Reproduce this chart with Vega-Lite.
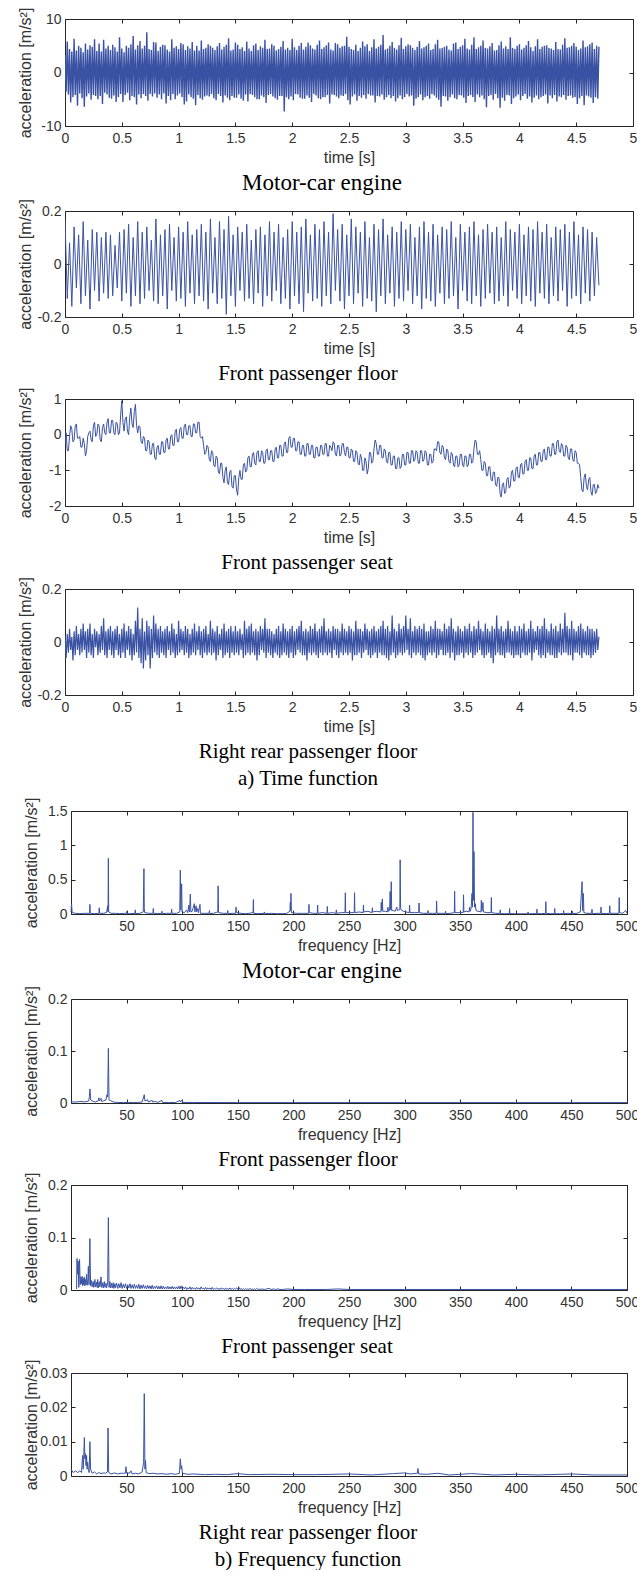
{
"$schema": "https://vega.github.io/schema/vega-lite/v6.json",
"background": "white",
"padding": {"left": 16, "top": 7, "right": 0, "bottom": 0},
"spacing": 8,
"datasets": {
"t1": [{"t":0,"a":3.2},{"t":0.01,"a":-3.6},{"t":0.02,"a":5.8},{"t":0.03,"a":-4.1},{"t":0.04,"a":4.4},{"t":0.05,"a":-5.6},{"t":0.06,"a":3.9},{"t":0.07,"a":-4.6},{"t":0.08,"a":6.3},{"t":0.09,"a":-4.2},
{"t":0.1,"a":4.1},{"t":0.11,"a":-6.2},{"t":0.12,"a":5.0},{"t":0.13,"a":-3.9},{"t":0.14,"a":4.6},{"t":0.15,"a":-4.8},{"t":0.16,"a":3.8},{"t":0.17,"a":-6.4},{"t":0.18,"a":5.4},{"t":0.19,"a":-4.5},
{"t":0.2,"a":4.3},{"t":0.21,"a":-3.9},{"t":0.22,"a":5.1},{"t":0.23,"a":-5.1},{"t":0.24,"a":4.8},{"t":0.25,"a":-4.2},{"t":0.26,"a":6.2},{"t":0.27,"a":-4.4},{"t":0.28,"a":4.0},{"t":0.29,"a":-5.0},
{"t":0.3,"a":5.4},{"t":0.31,"a":-4.4},{"t":0.32,"a":3.9},{"t":0.33,"a":-5.9},{"t":0.34,"a":6.1},{"t":0.35,"a":-3.8},{"t":0.36,"a":4.5},{"t":0.37,"a":-4.1},{"t":0.38,"a":5.0},{"t":0.39,"a":-4.7},
{"t":0.4,"a":4.2},{"t":0.41,"a":-4.9},{"t":0.42,"a":5.2},{"t":0.43,"a":-4.3},{"t":0.44,"a":4.7},{"t":0.45,"a":-5.5},{"t":0.46,"a":3.9},{"t":0.47,"a":-4.6},{"t":0.48,"a":6.6},{"t":0.49,"a":-4.0},
{"t":0.5,"a":4.5},{"t":0.51,"a":-5.5},{"t":0.52,"a":3.8},{"t":0.53,"a":-4.2},{"t":0.54,"a":5.0},{"t":0.55,"a":-3.8},{"t":0.56,"a":4.6},{"t":0.57,"a":-5.2},{"t":0.58,"a":5.3},{"t":0.59,"a":-4.4},
{"t":0.6,"a":6.8},{"t":0.61,"a":-4.6},{"t":0.62,"a":4.3},{"t":0.63,"a":-6.0},{"t":0.64,"a":5.1},{"t":0.65,"a":-4.1},{"t":0.66,"a":5.9},{"t":0.67,"a":-4.8},{"t":0.68,"a":4.5},{"t":0.69,"a":-4.0},
{"t":0.7,"a":5.0},{"t":0.71,"a":-4.4},{"t":0.72,"a":7.5},{"t":0.73,"a":-5.3},{"t":0.74,"a":4.4},{"t":0.75,"a":-4.0},{"t":0.76,"a":4.2},{"t":0.77,"a":-4.5},{"t":0.78,"a":5.7},{"t":0.79,"a":-3.9},
{"t":0.8,"a":5.6},{"t":0.81,"a":-4.7},{"t":0.82,"a":4.0},{"t":0.83,"a":-4.1},{"t":0.84,"a":4.8},{"t":0.85,"a":-5.0},{"t":0.86,"a":5.2},{"t":0.87,"a":-3.9},{"t":0.88,"a":5.1},{"t":0.89,"a":-5.8},
{"t":0.9,"a":4.3},{"t":0.91,"a":-4.4},{"t":0.92,"a":3.9},{"t":0.93,"a":-5.2},{"t":0.94,"a":6.2},{"t":0.95,"a":-4.0},{"t":0.96,"a":4.6},{"t":0.97,"a":-5.0},{"t":0.98,"a":4.9},{"t":0.99,"a":-4.3},
{"t":1.0,"a":4.4},{"t":1.01,"a":-3.9},{"t":1.02,"a":5.5},{"t":1.03,"a":-4.6},{"t":1.04,"a":5.3},{"t":1.05,"a":-6.0},{"t":1.06,"a":4.2},{"t":1.07,"a":-5.4},{"t":1.08,"a":4.9},{"t":1.09,"a":-4.1},
{"t":1.1,"a":4.5},{"t":1.11,"a":-4.6},{"t":1.12,"a":5.7},{"t":1.13,"a":-4.9},{"t":1.14,"a":4.1},{"t":1.15,"a":-6.1},{"t":1.16,"a":5.0},{"t":1.17,"a":-4.2},{"t":1.18,"a":4.1},{"t":1.19,"a":-4.8},
{"t":1.2,"a":6.0},{"t":1.21,"a":-5.1},{"t":1.22,"a":4.4},{"t":1.23,"a":-4.5},{"t":1.24,"a":4.6},{"t":1.25,"a":-4.3},{"t":1.26,"a":5.3},{"t":1.27,"a":-4.5},{"t":1.28,"a":5.0},{"t":1.29,"a":-4.0},
{"t":1.3,"a":4.6},{"t":1.31,"a":-4.8},{"t":1.32,"a":4.2},{"t":1.33,"a":-5.2},{"t":1.34,"a":4.9},{"t":1.35,"a":-4.0},{"t":1.36,"a":5.5},{"t":1.37,"a":-4.4},{"t":1.38,"a":4.3},{"t":1.39,"a":-5.6},
{"t":1.4,"a":4.8},{"t":1.41,"a":-4.3},{"t":1.42,"a":5.2},{"t":1.43,"a":-4.7},{"t":1.44,"a":6.4},{"t":1.45,"a":-5.2},{"t":1.46,"a":4.1},{"t":1.47,"a":-4.4},{"t":1.48,"a":4.3},{"t":1.49,"a":-4.7},
{"t":1.5,"a":5.6},{"t":1.51,"a":-4.7},{"t":1.52,"a":5.2},{"t":1.53,"a":-4.1},{"t":1.54,"a":4.4},{"t":1.55,"a":-4.9},{"t":1.56,"a":4.7},{"t":1.57,"a":-5.3},{"t":1.58,"a":4.0},{"t":1.59,"a":-4.1},
{"t":1.6,"a":5.8},{"t":1.61,"a":-5.4},{"t":1.62,"a":4.5},{"t":1.63,"a":-4.0},{"t":1.64,"a":4.0},{"t":1.65,"a":-4.2},{"t":1.66,"a":5.1},{"t":1.67,"a":-4.6},{"t":1.68,"a":5.4},{"t":1.69,"a":-5.0},
{"t":1.7,"a":4.2},{"t":1.71,"a":-5.0},{"t":1.72,"a":4.9},{"t":1.73,"a":-4.3},{"t":1.74,"a":4.6},{"t":1.75,"a":-4.6},{"t":1.76,"a":6.1},{"t":1.77,"a":-5.7},{"t":1.78,"a":4.4},{"t":1.79,"a":-4.2},
{"t":1.8,"a":4.5},{"t":1.81,"a":-4.0},{"t":1.82,"a":5.3},{"t":1.83,"a":-4.5},{"t":1.84,"a":5.0},{"t":1.85,"a":-4.8},{"t":1.86,"a":4.1},{"t":1.87,"a":-5.1},{"t":1.88,"a":4.4},{"t":1.89,"a":-4.4},
{"t":1.9,"a":4.8},{"t":1.91,"a":-4.4},{"t":1.92,"a":5.9},{"t":1.93,"a":-7.3},{"t":1.94,"a":4.3},{"t":1.95,"a":-4.6},{"t":1.96,"a":4.6},{"t":1.97,"a":-5.0},{"t":1.98,"a":4.2},{"t":1.99,"a":-4.5},
{"t":2.0,"a":6.3},{"t":2.01,"a":-5.2},{"t":2.02,"a":4.7},{"t":2.03,"a":-4.0},{"t":2.04,"a":4.2},{"t":2.05,"a":-4.1},{"t":2.06,"a":5.0},{"t":2.07,"a":-4.7},{"t":2.08,"a":5.5},{"t":2.09,"a":-4.9},
{"t":2.1,"a":4.3},{"t":2.11,"a":-4.9},{"t":2.12,"a":4.8},{"t":2.13,"a":-4.3},{"t":2.14,"a":5.6},{"t":2.15,"a":-4.7},{"t":2.16,"a":5.1},{"t":2.17,"a":-5.5},{"t":2.18,"a":4.5},{"t":2.19,"a":-4.0},
{"t":2.2,"a":4.3},{"t":2.21,"a":-4.3},{"t":2.22,"a":5.2},{"t":2.23,"a":-4.8},{"t":2.24,"a":6.0},{"t":2.25,"a":-5.0},{"t":2.26,"a":4.4},{"t":2.27,"a":-4.6},{"t":2.28,"a":4.7},{"t":2.29,"a":-4.6},
{"t":2.3,"a":5.1},{"t":2.31,"a":-4.2},{"t":2.32,"a":5.6},{"t":2.33,"a":-5.8},{"t":2.34,"a":4.3},{"t":2.35,"a":-4.1},{"t":2.36,"a":4.1},{"t":2.37,"a":-4.2},{"t":2.38,"a":5.5},{"t":2.39,"a":-4.5},
{"t":2.4,"a":5.3},{"t":2.41,"a":-4.8},{"t":2.42,"a":4.6},{"t":2.43,"a":-4.3},{"t":2.44,"a":4.9},{"t":2.45,"a":-4.4},{"t":2.46,"a":5.0},{"t":2.47,"a":-4.0},{"t":2.48,"a":6.7},{"t":2.49,"a":-5.2},
{"t":2.5,"a":4.8},{"t":2.51,"a":-6.0},{"t":2.52,"a":4.4},{"t":2.53,"a":-4.5},{"t":2.54,"a":4.2},{"t":2.55,"a":-4.1},{"t":2.56,"a":5.2},{"t":2.57,"a":-5.3},{"t":2.58,"a":4.0},{"t":2.59,"a":-4.4},
{"t":2.6,"a":4.6},{"t":2.61,"a":-4.7},{"t":2.62,"a":5.8},{"t":2.63,"a":-4.2},{"t":2.64,"a":4.9},{"t":2.65,"a":-4.9},{"t":2.66,"a":5.3},{"t":2.67,"a":-4.0},{"t":2.68,"a":4.0},{"t":2.69,"a":-4.3},
{"t":2.7,"a":4.7},{"t":2.71,"a":-4.3},{"t":2.72,"a":6.2},{"t":2.73,"a":-5.6},{"t":2.74,"a":4.5},{"t":2.75,"a":-4.4},{"t":2.76,"a":4.8},{"t":2.77,"a":-4.5},{"t":2.78,"a":5.2},{"t":2.79,"a":-4.1},
{"t":2.8,"a":7.0},{"t":2.81,"a":-5.1},{"t":2.82,"a":4.3},{"t":2.83,"a":-4.6},{"t":2.84,"a":4.5},{"t":2.85,"a":-4.2},{"t":2.86,"a":5.0},{"t":2.87,"a":-4.8},{"t":2.88,"a":5.7},{"t":2.89,"a":-4.4},
{"t":2.9,"a":4.6},{"t":2.91,"a":-5.4},{"t":2.92,"a":4.3},{"t":2.93,"a":-4.8},{"t":2.94,"a":5.1},{"t":2.95,"a":-4.3},{"t":2.96,"a":6.5},{"t":2.97,"a":-5.0},{"t":2.98,"a":4.4},{"t":2.99,"a":-4.6},
{"t":3.0,"a":4.9},{"t":3.01,"a":-4.0},{"t":3.02,"a":5.3},{"t":3.03,"a":-4.5},{"t":3.04,"a":5.1},{"t":3.05,"a":-4.3},{"t":3.06,"a":4.6},{"t":3.07,"a":-6.2},{"t":3.08,"a":4.2},{"t":3.09,"a":-4.9},
{"t":3.1,"a":4.8},{"t":3.11,"a":-4.6},{"t":3.12,"a":5.9},{"t":3.13,"a":-4.1},{"t":3.14,"a":4.5},{"t":3.15,"a":-5.2},{"t":3.16,"a":4.7},{"t":3.17,"a":-4.6},{"t":3.18,"a":5.0},{"t":3.19,"a":-4.4},
{"t":3.2,"a":5.4},{"t":3.21,"a":-4.9},{"t":3.22,"a":4.2},{"t":3.23,"a":-4.0},{"t":3.24,"a":4.4},{"t":3.25,"a":-4.3},{"t":3.26,"a":5.3},{"t":3.27,"a":-4.7},{"t":3.28,"a":6.1},{"t":3.29,"a":-5.1},
{"t":3.3,"a":4.5},{"t":3.31,"a":-6.4},{"t":3.32,"a":4.6},{"t":3.33,"a":-4.4},{"t":3.34,"a":4.8},{"t":3.35,"a":-4.5},{"t":3.36,"a":5.0},{"t":3.37,"a":-5.3},{"t":3.38,"a":4.3},{"t":3.39,"a":-4.6},
{"t":3.4,"a":4.1},{"t":3.41,"a":-4.1},{"t":3.42,"a":5.4},{"t":3.43,"a":-4.8},{"t":3.44,"a":5.6},{"t":3.45,"a":-5.0},{"t":3.46,"a":4.4},{"t":3.47,"a":-4.2},{"t":3.48,"a":4.8},{"t":3.49,"a":-4.3},
{"t":3.5,"a":5.1},{"t":3.51,"a":-4.7},{"t":3.52,"a":6.3},{"t":3.53,"a":-5.7},{"t":3.54,"a":4.5},{"t":3.55,"a":-4.4},{"t":3.56,"a":4.3},{"t":3.57,"a":-4.2},{"t":3.58,"a":5.2},{"t":3.59,"a":-4.6},
{"t":3.6,"a":6.6},{"t":3.61,"a":-5.5},{"t":3.62,"a":4.4},{"t":3.63,"a":-4.1},{"t":3.64,"a":4.7},{"t":3.65,"a":-4.6},{"t":3.66,"a":5.0},{"t":3.67,"a":-4.3},{"t":3.68,"a":6.0},{"t":3.69,"a":-5.0},
{"t":3.7,"a":4.6},{"t":3.71,"a":-6.5},{"t":3.72,"a":4.5},{"t":3.73,"a":-4.4},{"t":3.74,"a":4.9},{"t":3.75,"a":-4.2},{"t":3.76,"a":5.5},{"t":3.77,"a":-5.1},{"t":3.78,"a":4.1},{"t":3.79,"a":-4.0},
{"t":3.8,"a":4.2},{"t":3.81,"a":-4.8},{"t":3.82,"a":5.1},{"t":3.83,"a":-6.6},{"t":3.84,"a":5.8},{"t":3.85,"a":-4.7},{"t":3.86,"a":4.5},{"t":3.87,"a":-5.3},{"t":3.88,"a":4.9},{"t":3.89,"a":-4.2},
{"t":3.9,"a":4.4},{"t":3.91,"a":-4.3},{"t":3.92,"a":6.6},{"t":3.93,"a":-5.9},{"t":3.94,"a":4.6},{"t":3.95,"a":-4.8},{"t":3.96,"a":4.4},{"t":3.97,"a":-4.5},{"t":3.98,"a":5.0},{"t":3.99,"a":-4.1},
{"t":4.0,"a":5.3},{"t":4.01,"a":-5.2},{"t":4.02,"a":4.3},{"t":4.03,"a":-4.4},{"t":4.04,"a":4.6},{"t":4.05,"a":-4.0},{"t":4.06,"a":5.1},{"t":4.07,"a":-4.9},{"t":4.08,"a":5.9},{"t":4.09,"a":-4.5},
{"t":4.1,"a":4.7},{"t":4.11,"a":-5.6},{"t":4.12,"a":4.0},{"t":4.13,"a":-4.7},{"t":4.14,"a":4.9},{"t":4.15,"a":-4.3},{"t":4.16,"a":6.2},{"t":4.17,"a":-5.0},{"t":4.18,"a":4.4},{"t":4.19,"a":-4.6},
{"t":4.2,"a":4.8},{"t":4.21,"a":-4.4},{"t":4.22,"a":5.0},{"t":4.23,"a":-4.1},{"t":4.24,"a":5.1},{"t":4.25,"a":-5.8},{"t":4.26,"a":4.6},{"t":4.27,"a":-4.3},{"t":4.28,"a":4.5},{"t":4.29,"a":-4.8},
{"t":4.3,"a":4.2},{"t":4.31,"a":-4.2},{"t":4.32,"a":5.7},{"t":4.33,"a":-5.4},{"t":4.34,"a":4.4},{"t":4.35,"a":-4.5},{"t":4.36,"a":4.3},{"t":4.37,"a":-4.6},{"t":4.38,"a":5.2},{"t":4.39,"a":-4.2},
{"t":4.4,"a":6.4},{"t":4.41,"a":-5.1},{"t":4.42,"a":4.6},{"t":4.43,"a":-4.4},{"t":4.44,"a":4.7},{"t":4.45,"a":-4.3},{"t":4.46,"a":5.0},{"t":4.47,"a":-4.7},{"t":4.48,"a":5.5},{"t":4.49,"a":-4.6},
{"t":4.5,"a":4.8},{"t":4.51,"a":-5.9},{"t":4.52,"a":4.2},{"t":4.53,"a":-4.8},{"t":4.54,"a":4.5},{"t":4.55,"a":-4.4},{"t":4.56,"a":6.0},{"t":4.57,"a":-6.1},{"t":4.58,"a":4.7},{"t":4.59,"a":-4.3},
{"t":4.6,"a":4.9},{"t":4.61,"a":-4.5},{"t":4.62,"a":5.3},{"t":4.63,"a":-4.7},{"t":4.64,"a":5.6},{"t":4.65,"a":-5.7},{"t":4.66,"a":4.4},{"t":4.67,"a":-4.6},{"t":4.68,"a":5.0},{"t":4.69,"a":-4.9},{"t":4.7,"a":4.8}],
"t2": [{"t":0,"a":0.17},{"t":0.02,"a":-0.13},{"t":0.04,"a":0.08},{"t":0.06,"a":-0.16},{"t":0.08,"a":0.14},{"t":0.1,"a":-0.09},{"t":0.12,"a":0.11},{"t":0.14,"a":-0.15},{"t":0.16,"a":0.16},{"t":0.18,"a":-0.12},{"t":0.2,"a":0.09},{"t":0.22,"a":-0.17},{"t":0.24,"a":0.13},{"t":0.26,"a":-0.10},{"t":0.28,"a":0.12},{"t":0.3,"a":-0.14},{"t":0.32,"a":0.10},{"t":0.34,"a":-0.11},{"t":0.36,"a":0.12},{"t":0.38,"a":-0.13},{"t":0.4,"a":0.11},{"t":0.42,"a":-0.12},{"t":0.44,"a":0.07},{"t":0.46,"a":-0.09},{"t":0.48,"a":0.12},{"t":0.5,"a":-0.14},{"t":0.52,"a":0.13},{"t":0.54,"a":-0.11},{"t":0.56,"a":0.15},{"t":0.58,"a":-0.16},{"t":0.6,"a":0.10},{"t":0.62,"a":-0.12},{"t":0.64,"a":0.16},{"t":0.66,"a":-0.15},{"t":0.68,"a":0.12},{"t":0.7,"a":-0.13},{"t":0.72,"a":0.14},{"t":0.74,"a":-0.10},{"t":0.76,"a":0.09},{"t":0.78,"a":-0.14},{"t":0.8,"a":0.17},{"t":0.82,"a":-0.15},{"t":0.84,"a":0.11},{"t":0.86,"a":-0.12},{"t":0.88,"a":0.13},{"t":0.9,"a":-0.17},{"t":0.92,"a":0.15},{"t":0.94,"a":-0.10},{"t":0.96,"a":0.10},{"t":0.98,"a":-0.14},{"t":1.0,"a":0.14},{"t":1.02,"a":-0.13},{"t":1.04,"a":0.12},{"t":1.06,"a":-0.16},{"t":1.08,"a":0.16},{"t":1.1,"a":-0.11},{"t":1.12,"a":0.11},{"t":1.14,"a":-0.15},{"t":1.16,"a":0.13},{"t":1.18,"a":-0.12},{"t":1.2,"a":0.15},{"t":1.22,"a":-0.14},{"t":1.24,"a":0.12},{"t":1.26,"a":-0.17},{"t":1.28,"a":0.17},{"t":1.3,"a":-0.11},{"t":1.32,"a":0.10},{"t":1.34,"a":-0.15},{"t":1.36,"a":0.16},{"t":1.38,"a":-0.13},{"t":1.4,"a":0.13},{"t":1.42,"a":-0.19},{"t":1.44,"a":0.18},{"t":1.46,"a":-0.12},{"t":1.48,"a":0.11},{"t":1.5,"a":-0.16},{"t":1.52,"a":0.14},{"t":1.54,"a":-0.10},{"t":1.56,"a":0.12},{"t":1.58,"a":-0.14},{"t":1.6,"a":0.15},{"t":1.62,"a":-0.13},{"t":1.64,"a":0.09},{"t":1.66,"a":-0.15},{"t":1.68,"a":0.13},{"t":1.7,"a":-0.11},{"t":1.72,"a":0.14},{"t":1.74,"a":-0.16},{"t":1.76,"a":0.11},{"t":1.78,"a":-0.12},{"t":1.8,"a":0.16},{"t":1.82,"a":-0.14},{"t":1.84,"a":0.12},{"t":1.86,"a":-0.10},{"t":1.88,"a":0.15},{"t":1.9,"a":-0.15},{"t":1.92,"a":0.10},{"t":1.94,"a":-0.13},{"t":1.96,"a":0.13},{"t":1.98,"a":-0.17},{"t":2.0,"a":0.16},{"t":2.02,"a":-0.12},{"t":2.04,"a":0.12},{"t":2.06,"a":-0.15},{"t":2.08,"a":0.14},{"t":2.1,"a":-0.18},{"t":2.12,"a":0.17},{"t":2.14,"a":-0.11},{"t":2.16,"a":0.11},{"t":2.18,"a":-0.14},{"t":2.2,"a":0.15},{"t":2.22,"a":-0.13},{"t":2.24,"a":0.13},{"t":2.26,"a":-0.16},{"t":2.28,"a":0.16},{"t":2.3,"a":-0.12},{"t":2.32,"a":0.12},{"t":2.34,"a":-0.15},{"t":2.36,"a":0.19},{"t":2.38,"a":-0.10},{"t":2.4,"a":0.13},{"t":2.42,"a":-0.14},{"t":2.44,"a":0.15},{"t":2.46,"a":-0.17},{"t":2.48,"a":0.11},{"t":2.5,"a":-0.12},{"t":2.52,"a":0.17},{"t":2.54,"a":-0.15},{"t":2.56,"a":0.14},{"t":2.58,"a":-0.11},{"t":2.6,"a":0.12},{"t":2.62,"a":-0.16},{"t":2.64,"a":0.16},{"t":2.66,"a":-0.13},{"t":2.68,"a":0.10},{"t":2.7,"a":-0.14},{"t":2.72,"a":0.15},{"t":2.74,"a":-0.18},{"t":2.76,"a":0.13},{"t":2.78,"a":-0.12},{"t":2.8,"a":0.17},{"t":2.82,"a":-0.15},{"t":2.84,"a":0.11},{"t":2.86,"a":-0.11},{"t":2.88,"a":0.14},{"t":2.9,"a":-0.16},{"t":2.92,"a":0.12},{"t":2.94,"a":-0.13},{"t":2.96,"a":0.16},{"t":2.98,"a":-0.14},{"t":3.0,"a":0.13},{"t":3.02,"a":-0.10},{"t":3.04,"a":0.15},{"t":3.06,"a":-0.15},{"t":3.08,"a":0.10},{"t":3.1,"a":-0.12},{"t":3.12,"a":0.14},{"t":3.14,"a":-0.17},{"t":3.16,"a":0.16},{"t":3.18,"a":-0.13},{"t":3.2,"a":0.12},{"t":3.22,"a":-0.14},{"t":3.24,"a":0.15},{"t":3.26,"a":-0.16},{"t":3.28,"a":0.11},{"t":3.3,"a":-0.11},{"t":3.32,"a":0.14},{"t":3.34,"a":-0.15},{"t":3.36,"a":0.13},{"t":3.38,"a":-0.13},{"t":3.4,"a":0.16},{"t":3.42,"a":-0.12},{"t":3.44,"a":0.10},{"t":3.46,"a":-0.17},{"t":3.48,"a":0.15},{"t":3.5,"a":-0.10},{"t":3.52,"a":0.12},{"t":3.54,"a":-0.14},{"t":3.56,"a":0.14},{"t":3.58,"a":-0.15},{"t":3.6,"a":0.16},{"t":3.62,"a":-0.12},{"t":3.64,"a":0.11},{"t":3.66,"a":-0.16},{"t":3.68,"a":0.13},{"t":3.7,"a":-0.13},{"t":3.72,"a":0.15},{"t":3.74,"a":-0.11},{"t":3.76,"a":0.12},{"t":3.78,"a":-0.15},{"t":3.8,"a":0.14},{"t":3.82,"a":-0.14},{"t":3.84,"a":0.10},{"t":3.86,"a":-0.12},{"t":3.88,"a":0.16},{"t":3.9,"a":-0.16},{"t":3.92,"a":0.13},{"t":3.94,"a":-0.10},{"t":3.96,"a":0.12},{"t":3.98,"a":-0.13},{"t":4.0,"a":0.15},{"t":4.02,"a":-0.15},{"t":4.04,"a":0.11},{"t":4.06,"a":-0.12},{"t":4.08,"a":0.14},{"t":4.1,"a":-0.14},{"t":4.12,"a":0.13},{"t":4.14,"a":-0.16},{"t":4.16,"a":0.16},{"t":4.18,"a":-0.11},{"t":4.2,"a":0.12},{"t":4.22,"a":-0.13},{"t":4.24,"a":0.15},{"t":4.26,"a":-0.15},{"t":4.28,"a":0.10},{"t":4.3,"a":-0.12},{"t":4.32,"a":0.14},{"t":4.34,"a":-0.14},{"t":4.36,"a":0.13},{"t":4.38,"a":-0.10},{"t":4.4,"a":0.15},{"t":4.42,"a":-0.16},{"t":4.44,"a":0.12},{"t":4.46,"a":-0.13},{"t":4.48,"a":0.16},{"t":4.5,"a":-0.12},{"t":4.52,"a":0.11},{"t":4.54,"a":-0.15},{"t":4.56,"a":0.14},{"t":4.58,"a":-0.11},{"t":4.6,"a":0.13},{"t":4.62,"a":-0.14},{"t":4.64,"a":0.12},{"t":4.66,"a":-0.12},{"t":4.68,"a":0.10},{"t":4.7,"a":-0.08}],
"t3": [{"t":0,"a":-0.25},{"t":0.01,"a":0.05},{"t":0.02,"a":-0.45},{"t":0.03,"a":-0.45},{"t":0.04,"a":-0.05},{"t":0.05,"a":0.25},{"t":0.06,"a":0.15},{"t":0.07,"a":-0.2},{"t":0.08,"a":-0.15},{"t":0.09,"a":0.25},
{"t":0.1,"a":0.3},{"t":0.11,"a":-0.1},{"t":0.12,"a":-0.1},{"t":0.13,"a":-0.05},{"t":0.14,"a":-0.35},{"t":0.15,"a":-0.35},{"t":0.16,"a":-0.1},{"t":0.17,"a":-0.25},{"t":0.18,"a":-0.6},{"t":0.19,"a":-0.45},
{"t":0.2,"a":-0.05},{"t":0.21,"a":0.05},{"t":0.22,"a":0.1},{"t":0.23,"a":-0.15},{"t":0.24,"a":-0.2},{"t":0.25,"a":0.25},{"t":0.26,"a":0.35},{"t":0.27,"a":-0.05},{"t":0.28,"a":0.0},{"t":0.29,"a":0.3},
{"t":0.3,"a":0.25},{"t":0.31,"a":-0.15},{"t":0.32,"a":-0.2},{"t":0.33,"a":0.2},{"t":0.34,"a":0.3},{"t":0.35,"a":0.05},{"t":0.36,"a":0.0},{"t":0.37,"a":0.35},{"t":0.38,"a":0.45},{"t":0.39,"a":0.05},
{"t":0.4,"a":0.05},{"t":0.41,"a":0.4},{"t":0.42,"a":0.4},{"t":0.43,"a":0.05},{"t":0.44,"a":0.0},{"t":0.45,"a":0.35},{"t":0.46,"a":0.3},{"t":0.47,"a":0.0},{"t":0.48,"a":0.05},{"t":0.49,"a":0.55},
{"t":0.5,"a":0.95},{"t":0.51,"a":0.35},{"t":0.52,"a":0.1},{"t":0.53,"a":0.45},{"t":0.54,"a":0.5},{"t":0.55,"a":0.1},{"t":0.56,"a":0.0},{"t":0.57,"a":0.5},{"t":0.58,"a":0.75},{"t":0.59,"a":0.3},
{"t":0.6,"a":0.2},{"t":0.61,"a":0.65},{"t":0.62,"a":0.85},{"t":0.63,"a":0.25},{"t":0.64,"a":0.05},{"t":0.65,"a":0.25},{"t":0.66,"a":0.2},{"t":0.67,"a":-0.2},{"t":0.68,"a":-0.25},{"t":0.69,"a":-0.05},
{"t":0.7,"a":-0.1},{"t":0.71,"a":-0.45},{"t":0.72,"a":-0.45},{"t":0.73,"a":-0.15},{"t":0.74,"a":-0.2},{"t":0.75,"a":-0.55},{"t":0.76,"a":-0.55},{"t":0.77,"a":-0.25},{"t":0.78,"a":-0.25},{"t":0.79,"a":-0.65},
{"t":0.8,"a":-0.7},{"t":0.81,"a":-0.35},{"t":0.82,"a":-0.3},{"t":0.83,"a":-0.55},{"t":0.84,"a":-0.55},{"t":0.85,"a":-0.2},{"t":0.86,"a":-0.2},{"t":0.87,"a":-0.5},{"t":0.88,"a":-0.5},{"t":0.89,"a":-0.15},
{"t":0.9,"a":-0.1},{"t":0.91,"a":-0.4},{"t":0.92,"a":-0.4},{"t":0.93,"a":-0.05},{"t":0.94,"a":0.0},{"t":0.95,"a":-0.3},{"t":0.96,"a":-0.3},{"t":0.97,"a":0.1},{"t":0.98,"a":0.15},{"t":0.99,"a":-0.2},
{"t":1.0,"a":-0.2},{"t":1.01,"a":0.15},{"t":1.02,"a":0.2},{"t":1.03,"a":-0.1},{"t":1.04,"a":-0.1},{"t":1.05,"a":0.25},{"t":1.06,"a":0.3},{"t":1.07,"a":0.0},{"t":1.08,"a":0.0},{"t":1.09,"a":0.25},
{"t":1.1,"a":0.25},{"t":1.11,"a":-0.05},{"t":1.12,"a":-0.05},{"t":1.13,"a":0.3},{"t":1.14,"a":0.3},{"t":1.15,"a":0.05},{"t":1.16,"a":0.05},{"t":1.17,"a":0.35},{"t":1.18,"a":0.35},{"t":1.19,"a":-0.05},
{"t":1.2,"a":-0.1},{"t":1.21,"a":-0.05},{"t":1.22,"a":-0.3},{"t":1.23,"a":-0.55},{"t":1.24,"a":-0.5},{"t":1.25,"a":-0.3},{"t":1.26,"a":-0.35},{"t":1.27,"a":-0.7},{"t":1.28,"a":-0.75},{"t":1.29,"a":-0.45},
{"t":1.3,"a":-0.5},{"t":1.31,"a":-0.85},{"t":1.32,"a":-0.9},{"t":1.33,"a":-0.6},{"t":1.34,"a":-0.65},{"t":1.35,"a":-1.05},{"t":1.36,"a":-1.1},{"t":1.37,"a":-0.8},{"t":1.38,"a":-0.8},{"t":1.39,"a":-1.2},
{"t":1.4,"a":-1.35},{"t":1.41,"a":-1.0},{"t":1.42,"a":-0.9},{"t":1.43,"a":-1.35},{"t":1.44,"a":-1.4},{"t":1.45,"a":-1.05},{"t":1.46,"a":-1.0},{"t":1.47,"a":-1.45},{"t":1.48,"a":-1.5},{"t":1.49,"a":-1.15},
{"t":1.5,"a":-1.15},{"t":1.51,"a":-1.55},{"t":1.52,"a":-1.7},{"t":1.53,"a":-1.2},{"t":1.54,"a":-1.0},{"t":1.55,"a":-1.25},{"t":1.56,"a":-1.25},{"t":1.57,"a":-0.85},{"t":1.58,"a":-0.8},{"t":1.59,"a":-1.05},
{"t":1.6,"a":-1.0},{"t":1.61,"a":-0.65},{"t":1.62,"a":-0.6},{"t":1.63,"a":-0.9},{"t":1.64,"a":-0.9},{"t":1.65,"a":-0.55},{"t":1.66,"a":-0.5},{"t":1.67,"a":-0.8},{"t":1.68,"a":-0.85},{"t":1.69,"a":-0.5},
{"t":1.7,"a":-0.45},{"t":1.71,"a":-0.75},{"t":1.72,"a":-0.75},{"t":1.73,"a":-0.45},{"t":1.74,"a":-0.5},{"t":1.75,"a":-0.8},{"t":1.76,"a":-0.8},{"t":1.77,"a":-0.45},{"t":1.78,"a":-0.4},{"t":1.79,"a":-0.7},
{"t":1.8,"a":-0.7},{"t":1.81,"a":-0.45},{"t":1.82,"a":-0.45},{"t":1.83,"a":-0.75},{"t":1.84,"a":-0.75},{"t":1.85,"a":-0.4},{"t":1.86,"a":-0.35},{"t":1.87,"a":-0.65},{"t":1.88,"a":-0.65},{"t":1.89,"a":-0.3},
{"t":1.9,"a":-0.3},{"t":1.91,"a":-0.6},{"t":1.92,"a":-0.6},{"t":1.93,"a":-0.25},{"t":1.94,"a":-0.2},{"t":1.95,"a":-0.5},{"t":1.96,"a":-0.5},{"t":1.97,"a":-0.1},{"t":1.98,"a":-0.05},{"t":1.99,"a":-0.35},
{"t":2.0,"a":-0.35},{"t":2.01,"a":-0.1},{"t":2.02,"a":-0.1},{"t":2.03,"a":-0.45},{"t":2.04,"a":-0.45},{"t":2.05,"a":-0.2},{"t":2.06,"a":-0.2},{"t":2.07,"a":-0.55},{"t":2.08,"a":-0.55},{"t":2.09,"a":-0.3},
{"t":2.1,"a":-0.3},{"t":2.11,"a":-0.6},{"t":2.12,"a":-0.6},{"t":2.13,"a":-0.25},{"t":2.14,"a":-0.25},{"t":2.15,"a":-0.55},{"t":2.16,"a":-0.55},{"t":2.17,"a":-0.3},{"t":2.18,"a":-0.3},{"t":2.19,"a":-0.65},
{"t":2.2,"a":-0.65},{"t":2.21,"a":-0.35},{"t":2.22,"a":-0.35},{"t":2.23,"a":-0.6},{"t":2.24,"a":-0.6},{"t":2.25,"a":-0.3},{"t":2.26,"a":-0.3},{"t":2.27,"a":-0.55},{"t":2.28,"a":-0.55},{"t":2.29,"a":-0.25},
{"t":2.3,"a":-0.25},{"t":2.31,"a":-0.6},{"t":2.32,"a":-0.6},{"t":2.33,"a":-0.3},{"t":2.34,"a":-0.35},{"t":2.35,"a":-0.45},{"t":2.36,"a":-0.2},{"t":2.37,"a":-0.25},{"t":2.38,"a":-0.55},{"t":2.39,"a":-0.6},
{"t":2.4,"a":-0.3},{"t":2.41,"a":-0.3},{"t":2.42,"a":-0.6},{"t":2.43,"a":-0.55},{"t":2.44,"a":-0.25},{"t":2.45,"a":-0.25},{"t":2.46,"a":-0.5},{"t":2.47,"a":-0.6},{"t":2.48,"a":-0.35},{"t":2.49,"a":-0.35},
{"t":2.5,"a":-0.65},{"t":2.51,"a":-0.65},{"t":2.52,"a":-0.4},{"t":2.53,"a":-0.45},{"t":2.54,"a":-0.75},{"t":2.55,"a":-0.75},{"t":2.56,"a":-0.45},{"t":2.57,"a":-0.5},{"t":2.58,"a":-0.8},{"t":2.59,"a":-0.85},
{"t":2.6,"a":-0.55},{"t":2.61,"a":-0.65},{"t":2.62,"a":-1.0},{"t":2.63,"a":-1.0},{"t":2.64,"a":-0.65},{"t":2.65,"a":-0.75},{"t":2.66,"a":-1.1},{"t":2.67,"a":-0.95},{"t":2.68,"a":-0.5},{"t":2.69,"a":-0.5},
{"t":2.7,"a":-0.8},{"t":2.71,"a":-0.75},{"t":2.72,"a":-0.4},{"t":2.73,"a":-0.15},{"t":2.74,"a":-0.25},{"t":2.75,"a":-0.55},{"t":2.76,"a":-0.55},{"t":2.77,"a":-0.3},{"t":2.78,"a":-0.3},{"t":2.79,"a":-0.65},
{"t":2.8,"a":-0.65},{"t":2.81,"a":-0.4},{"t":2.82,"a":-0.45},{"t":2.83,"a":-0.75},{"t":2.84,"a":-0.8},{"t":2.85,"a":-0.5},{"t":2.86,"a":-0.5},{"t":2.87,"a":-0.85},{"t":2.88,"a":-0.85},{"t":2.89,"a":-0.6},
{"t":2.9,"a":-0.6},{"t":2.91,"a":-0.95},{"t":2.92,"a":-0.95},{"t":2.93,"a":-0.65},{"t":2.94,"a":-0.65},{"t":2.95,"a":-0.95},{"t":2.96,"a":-0.9},{"t":2.97,"a":-0.55},{"t":2.98,"a":-0.55},{"t":2.99,"a":-0.85},
{"t":3.0,"a":-0.85},{"t":3.01,"a":-0.5},{"t":3.02,"a":-0.5},{"t":3.03,"a":-0.8},{"t":3.04,"a":-0.8},{"t":3.05,"a":-0.45},{"t":3.06,"a":-0.45},{"t":3.07,"a":-0.75},{"t":3.08,"a":-0.7},{"t":3.09,"a":-0.45},
{"t":3.1,"a":-0.5},{"t":3.11,"a":-0.8},{"t":3.12,"a":-0.8},{"t":3.13,"a":-0.45},{"t":3.14,"a":-0.45},{"t":3.15,"a":-0.75},{"t":3.16,"a":-0.7},{"t":3.17,"a":-0.45},{"t":3.18,"a":-0.5},{"t":3.19,"a":-0.85},
{"t":3.2,"a":-0.85},{"t":3.21,"a":-0.55},{"t":3.22,"a":-0.55},{"t":3.23,"a":-0.8},{"t":3.24,"a":-0.75},{"t":3.25,"a":-0.4},{"t":3.26,"a":-0.4},{"t":3.27,"a":-0.45},{"t":3.28,"a":-0.2},{"t":3.29,"a":-0.2},
{"t":3.3,"a":-0.5},{"t":3.31,"a":-0.55},{"t":3.32,"a":-0.3},{"t":3.33,"a":-0.35},{"t":3.34,"a":-0.65},{"t":3.35,"a":-0.7},{"t":3.36,"a":-0.4},{"t":3.37,"a":-0.45},{"t":3.38,"a":-0.75},{"t":3.39,"a":-0.8},
{"t":3.4,"a":-0.5},{"t":3.41,"a":-0.55},{"t":3.42,"a":-0.85},{"t":3.43,"a":-0.9},{"t":3.44,"a":-0.6},{"t":3.45,"a":-0.6},{"t":3.46,"a":-0.9},{"t":3.47,"a":-0.85},{"t":3.48,"a":-0.55},{"t":3.49,"a":-0.55},
{"t":3.5,"a":-0.85},{"t":3.51,"a":-0.9},{"t":3.52,"a":-0.6},{"t":3.53,"a":-0.6},{"t":3.54,"a":-0.9},{"t":3.55,"a":-0.85},{"t":3.56,"a":-0.55},{"t":3.57,"a":-0.55},{"t":3.58,"a":-0.8},{"t":3.59,"a":-0.75},
{"t":3.6,"a":-0.4},{"t":3.61,"a":-0.15},{"t":3.62,"a":-0.2},{"t":3.63,"a":-0.55},{"t":3.64,"a":-0.55},{"t":3.65,"a":-0.45},{"t":3.66,"a":-0.7},{"t":3.67,"a":-1.0},{"t":3.68,"a":-1.0},{"t":3.69,"a":-0.75},
{"t":3.7,"a":-0.8},{"t":3.71,"a":-1.15},{"t":3.72,"a":-1.15},{"t":3.73,"a":-0.9},{"t":3.74,"a":-0.9},{"t":3.75,"a":-1.25},{"t":3.76,"a":-1.3},{"t":3.77,"a":-1.05},{"t":3.78,"a":-1.05},{"t":3.79,"a":-1.4},
{"t":3.8,"a":-1.45},{"t":3.81,"a":-1.2},{"t":3.82,"a":-1.2},{"t":3.83,"a":-1.65},{"t":3.84,"a":-1.75},{"t":3.85,"a":-1.4},{"t":3.86,"a":-1.35},{"t":3.87,"a":-1.65},{"t":3.88,"a":-1.6},{"t":3.89,"a":-1.25},
{"t":3.9,"a":-1.2},{"t":3.91,"a":-1.5},{"t":3.92,"a":-1.45},{"t":3.93,"a":-1.05},{"t":3.94,"a":-1.0},{"t":3.95,"a":-1.3},{"t":3.96,"a":-1.3},{"t":3.97,"a":-0.95},{"t":3.98,"a":-0.9},{"t":3.99,"a":-1.2},
{"t":4.0,"a":-1.2},{"t":4.01,"a":-0.85},{"t":4.02,"a":-0.8},{"t":4.03,"a":-1.1},{"t":4.04,"a":-1.1},{"t":4.05,"a":-0.75},{"t":4.06,"a":-0.7},{"t":4.07,"a":-1.0},{"t":4.08,"a":-1.0},{"t":4.09,"a":-0.65},
{"t":4.1,"a":-0.65},{"t":4.11,"a":-0.95},{"t":4.12,"a":-0.95},{"t":4.13,"a":-0.6},{"t":4.14,"a":-0.55},{"t":4.15,"a":-0.85},{"t":4.16,"a":-0.85},{"t":4.17,"a":-0.5},{"t":4.18,"a":-0.5},{"t":4.19,"a":-0.75},
{"t":4.2,"a":-0.75},{"t":4.21,"a":-0.45},{"t":4.22,"a":-0.4},{"t":4.23,"a":-0.7},{"t":4.24,"a":-0.7},{"t":4.25,"a":-0.35},{"t":4.26,"a":-0.35},{"t":4.27,"a":-0.6},{"t":4.28,"a":-0.6},{"t":4.29,"a":-0.25},
{"t":4.3,"a":-0.25},{"t":4.31,"a":-0.55},{"t":4.32,"a":-0.55},{"t":4.33,"a":-0.2},{"t":4.34,"a":-0.15},{"t":4.35,"a":-0.45},{"t":4.36,"a":-0.5},{"t":4.37,"a":-0.25},{"t":4.38,"a":-0.3},{"t":4.39,"a":-0.6},
{"t":4.4,"a":-0.6},{"t":4.41,"a":-0.3},{"t":4.42,"a":-0.35},{"t":4.43,"a":-0.65},{"t":4.44,"a":-0.7},{"t":4.45,"a":-0.4},{"t":4.46,"a":-0.4},{"t":4.47,"a":-0.7},{"t":4.48,"a":-0.75},{"t":4.49,"a":-0.45},
{"t":4.5,"a":-0.5},{"t":4.51,"a":-0.8},{"t":4.52,"a":-0.8},{"t":4.53,"a":-0.85},{"t":4.54,"a":-1.2},{"t":4.55,"a":-1.55},{"t":4.56,"a":-1.6},{"t":4.57,"a":-1.2},{"t":4.58,"a":-1.1},{"t":4.59,"a":-1.45},
{"t":4.6,"a":-1.55},{"t":4.61,"a":-1.25},{"t":4.62,"a":-1.2},{"t":4.63,"a":-1.6},{"t":4.64,"a":-1.7},{"t":4.65,"a":-1.4},{"t":4.66,"a":-1.4},{"t":4.67,"a":-1.65},{"t":4.68,"a":-1.6},{"t":4.69,"a":-1.4},{"t":4.7,"a":-1.5}],
"t4": [{"t":0,"a":0.02},{"t":0.01,"a":-0.06},{"t":0.02,"a":0.03},{"t":0.03,"a":-0.04},{"t":0.04,"a":0.05},{"t":0.05,"a":-0.03},{"t":0.06,"a":0.02},{"t":0.07,"a":-0.07},{"t":0.08,"a":0.04},{"t":0.09,"a":-0.05},
{"t":0.1,"a":0.06},{"t":0.11,"a":-0.03},{"t":0.12,"a":0.03},{"t":0.13,"a":-0.05},{"t":0.14,"a":0.05},{"t":0.15,"a":-0.04},{"t":0.16,"a":0.07},{"t":0.17,"a":-0.03},{"t":0.18,"a":0.04},{"t":0.19,"a":-0.06},
{"t":0.2,"a":0.05},{"t":0.21,"a":-0.04},{"t":0.22,"a":0.07},{"t":0.23,"a":-0.05},{"t":0.24,"a":0.03},{"t":0.25,"a":-0.06},{"t":0.26,"a":0.05},{"t":0.27,"a":-0.02},{"t":0.28,"a":0.04},{"t":0.29,"a":-0.05},
{"t":0.3,"a":0.03},{"t":0.31,"a":-0.04},{"t":0.32,"a":0.06},{"t":0.33,"a":-0.03},{"t":0.34,"a":0.09},{"t":0.35,"a":-0.05},{"t":0.36,"a":0.04},{"t":0.37,"a":-0.06},{"t":0.38,"a":0.05},{"t":0.39,"a":-0.03},
{"t":0.4,"a":0.06},{"t":0.41,"a":-0.05},{"t":0.42,"a":0.04},{"t":0.43,"a":-0.06},{"t":0.44,"a":0.05},{"t":0.45,"a":-0.03},{"t":0.46,"a":0.06},{"t":0.47,"a":-0.05},{"t":0.48,"a":0.03},{"t":0.49,"a":-0.06},
{"t":0.5,"a":0.05},{"t":0.51,"a":-0.04},{"t":0.52,"a":0.07},{"t":0.53,"a":-0.06},{"t":0.54,"a":0.04},{"t":0.55,"a":-0.03},{"t":0.56,"a":0.06},{"t":0.57,"a":-0.05},{"t":0.58,"a":0.05},{"t":0.59,"a":-0.07},
{"t":0.6,"a":0.03},{"t":0.61,"a":-0.05},{"t":0.62,"a":0.08},{"t":0.63,"a":-0.04},{"t":0.64,"a":0.13},{"t":0.65,"a":-0.06},{"t":0.66,"a":0.05},{"t":0.67,"a":-0.08},{"t":0.68,"a":0.09},{"t":0.69,"a":-0.1},
{"t":0.7,"a":0.04},{"t":0.71,"a":-0.07},{"t":0.72,"a":0.08},{"t":0.73,"a":-0.05},{"t":0.74,"a":0.06},{"t":0.75,"a":-0.1},{"t":0.76,"a":0.05},{"t":0.77,"a":-0.06},{"t":0.78,"a":0.1},{"t":0.79,"a":-0.04},
{"t":0.8,"a":0.07},{"t":0.81,"a":-0.05},{"t":0.82,"a":0.05},{"t":0.83,"a":-0.06},{"t":0.84,"a":0.06},{"t":0.85,"a":-0.04},{"t":0.86,"a":0.04},{"t":0.87,"a":-0.05},{"t":0.88,"a":0.05},{"t":0.89,"a":-0.06},
{"t":0.9,"a":0.06},{"t":0.91,"a":-0.03},{"t":0.92,"a":0.04},{"t":0.93,"a":-0.05},{"t":0.94,"a":0.07},{"t":0.95,"a":-0.04},{"t":0.96,"a":0.05},{"t":0.97,"a":-0.06},{"t":0.98,"a":0.03},{"t":0.99,"a":-0.05},
{"t":1.0,"a":0.08},{"t":1.01,"a":-0.04},{"t":1.02,"a":0.05},{"t":1.03,"a":-0.03},{"t":1.04,"a":0.04},{"t":1.05,"a":-0.05},{"t":1.06,"a":0.06},{"t":1.07,"a":-0.04},{"t":1.08,"a":0.05},{"t":1.09,"a":-0.06},
{"t":1.1,"a":0.03},{"t":1.11,"a":-0.05},{"t":1.12,"a":0.05},{"t":1.13,"a":-0.04},{"t":1.14,"a":0.07},{"t":1.15,"a":-0.05},{"t":1.16,"a":0.04},{"t":1.17,"a":-0.03},{"t":1.18,"a":0.06},{"t":1.19,"a":-0.05},
{"t":1.2,"a":0.04},{"t":1.21,"a":-0.06},{"t":1.22,"a":0.05},{"t":1.23,"a":-0.04},{"t":1.24,"a":0.06},{"t":1.25,"a":-0.05},{"t":1.26,"a":0.03},{"t":1.27,"a":-0.04},{"t":1.28,"a":0.08},{"t":1.29,"a":-0.05},
{"t":1.3,"a":0.05},{"t":1.31,"a":-0.04},{"t":1.32,"a":0.04},{"t":1.33,"a":-0.07},{"t":1.34,"a":0.06},{"t":1.35,"a":-0.05},{"t":1.36,"a":0.03},{"t":1.37,"a":-0.03},{"t":1.38,"a":0.05},{"t":1.39,"a":-0.06},
{"t":1.4,"a":0.07},{"t":1.41,"a":-0.05},{"t":1.42,"a":0.04},{"t":1.43,"a":-0.04},{"t":1.44,"a":0.05},{"t":1.45,"a":-0.06},{"t":1.46,"a":0.06},{"t":1.47,"a":-0.04},{"t":1.48,"a":0.04},{"t":1.49,"a":-0.05},
{"t":1.5,"a":0.06},{"t":1.51,"a":-0.04},{"t":1.52,"a":0.04},{"t":1.53,"a":-0.05},{"t":1.54,"a":0.05},{"t":1.55,"a":-0.03},{"t":1.56,"a":0.03},{"t":1.57,"a":-0.06},{"t":1.58,"a":0.08},{"t":1.59,"a":-0.05},
{"t":1.6,"a":0.05},{"t":1.61,"a":-0.04},{"t":1.62,"a":0.06},{"t":1.63,"a":-0.05},{"t":1.64,"a":0.07},{"t":1.65,"a":-0.04},{"t":1.66,"a":0.04},{"t":1.67,"a":-0.05},{"t":1.68,"a":0.05},{"t":1.69,"a":-0.07},
{"t":1.7,"a":0.04},{"t":1.71,"a":-0.05},{"t":1.72,"a":0.06},{"t":1.73,"a":-0.03},{"t":1.74,"a":0.05},{"t":1.75,"a":-0.04},{"t":1.76,"a":0.09},{"t":1.77,"a":-0.06},{"t":1.78,"a":0.05},{"t":1.79,"a":-0.04},
{"t":1.8,"a":0.05},{"t":1.81,"a":-0.05},{"t":1.82,"a":0.04},{"t":1.83,"a":-0.06},{"t":1.84,"a":0.03},{"t":1.85,"a":-0.04},{"t":1.86,"a":0.05},{"t":1.87,"a":-0.05},{"t":1.88,"a":0.06},{"t":1.89,"a":-0.06},
{"t":1.9,"a":0.04},{"t":1.91,"a":-0.05},{"t":1.92,"a":0.07},{"t":1.93,"a":-0.04},{"t":1.94,"a":0.05},{"t":1.95,"a":-0.05},{"t":1.96,"a":0.04},{"t":1.97,"a":-0.06},{"t":1.98,"a":0.05},{"t":1.99,"a":-0.04},
{"t":2.0,"a":0.06},{"t":2.01,"a":-0.06},{"t":2.02,"a":0.04},{"t":2.03,"a":-0.05},{"t":2.04,"a":0.05},{"t":2.05,"a":-0.03},{"t":2.06,"a":0.06},{"t":2.07,"a":-0.04},{"t":2.08,"a":0.08},{"t":2.09,"a":-0.05},
{"t":2.1,"a":0.04},{"t":2.11,"a":-0.05},{"t":2.12,"a":0.05},{"t":2.13,"a":-0.07},{"t":2.14,"a":0.04},{"t":2.15,"a":-0.04},{"t":2.16,"a":0.06},{"t":2.17,"a":-0.05},{"t":2.18,"a":0.05},{"t":2.19,"a":-0.04},
{"t":2.2,"a":0.07},{"t":2.21,"a":-0.05},{"t":2.22,"a":0.04},{"t":2.23,"a":-0.06},{"t":2.24,"a":0.05},{"t":2.25,"a":-0.04},{"t":2.26,"a":0.06},{"t":2.27,"a":-0.05},{"t":2.28,"a":0.09},{"t":2.29,"a":-0.04},
{"t":2.3,"a":0.04},{"t":2.31,"a":-0.05},{"t":2.32,"a":0.05},{"t":2.33,"a":-0.04},{"t":2.34,"a":0.04},{"t":2.35,"a":-0.06},{"t":2.36,"a":0.06},{"t":2.37,"a":-0.03},{"t":2.38,"a":0.05},{"t":2.39,"a":-0.05},
{"t":2.4,"a":0.05},{"t":2.41,"a":-0.06},{"t":2.42,"a":0.04},{"t":2.43,"a":-0.04},{"t":2.44,"a":0.07},{"t":2.45,"a":-0.05},{"t":2.46,"a":0.05},{"t":2.47,"a":-0.04},{"t":2.48,"a":0.04},{"t":2.49,"a":-0.05},
{"t":2.5,"a":0.06},{"t":2.51,"a":-0.04},{"t":2.52,"a":0.05},{"t":2.53,"a":-0.07},{"t":2.54,"a":0.04},{"t":2.55,"a":-0.05},{"t":2.56,"a":0.08},{"t":2.57,"a":-0.05},{"t":2.58,"a":0.05},{"t":2.59,"a":-0.04},
{"t":2.6,"a":0.05},{"t":2.61,"a":-0.06},{"t":2.62,"a":0.04},{"t":2.63,"a":-0.04},{"t":2.64,"a":0.07},{"t":2.65,"a":-0.03},{"t":2.66,"a":0.05},{"t":2.67,"a":-0.05},{"t":2.68,"a":0.04},{"t":2.69,"a":-0.06},
{"t":2.7,"a":0.05},{"t":2.71,"a":-0.05},{"t":2.72,"a":0.06},{"t":2.73,"a":-0.04},{"t":2.74,"a":0.04},{"t":2.75,"a":-0.06},{"t":2.76,"a":0.05},{"t":2.77,"a":-0.04},{"t":2.78,"a":0.06},{"t":2.79,"a":-0.05},
{"t":2.8,"a":0.08},{"t":2.81,"a":-0.05},{"t":2.82,"a":0.05},{"t":2.83,"a":-0.06},{"t":2.84,"a":0.06},{"t":2.85,"a":-0.07},{"t":2.86,"a":0.04},{"t":2.87,"a":-0.05},{"t":2.88,"a":0.1},{"t":2.89,"a":-0.04},
{"t":2.9,"a":0.05},{"t":2.91,"a":-0.06},{"t":2.92,"a":0.04},{"t":2.93,"a":-0.05},{"t":2.94,"a":0.07},{"t":2.95,"a":-0.04},{"t":2.96,"a":0.05},{"t":2.97,"a":-0.05},{"t":2.98,"a":0.06},{"t":2.99,"a":-0.04},
{"t":3.0,"a":0.1},{"t":3.01,"a":-0.03},{"t":3.02,"a":0.05},{"t":3.03,"a":-0.05},{"t":3.04,"a":0.09},{"t":3.05,"a":-0.06},{"t":3.06,"a":0.04},{"t":3.07,"a":-0.04},{"t":3.08,"a":0.06},{"t":3.09,"a":-0.05},
{"t":3.1,"a":0.05},{"t":3.11,"a":-0.04},{"t":3.12,"a":0.06},{"t":3.13,"a":-0.05},{"t":3.14,"a":0.05},{"t":3.15,"a":-0.06},{"t":3.16,"a":0.07},{"t":3.17,"a":-0.07},{"t":3.18,"a":0.04},{"t":3.19,"a":-0.05},
{"t":3.2,"a":0.04},{"t":3.21,"a":-0.04},{"t":3.22,"a":0.06},{"t":3.23,"a":-0.05},{"t":3.24,"a":0.05},{"t":3.25,"a":-0.04},{"t":3.26,"a":0.08},{"t":3.27,"a":-0.06},{"t":3.28,"a":0.05},{"t":3.29,"a":-0.05},
{"t":3.3,"a":0.05},{"t":3.31,"a":-0.03},{"t":3.32,"a":0.04},{"t":3.33,"a":-0.05},{"t":3.34,"a":0.07},{"t":3.35,"a":-0.05},{"t":3.36,"a":0.05},{"t":3.37,"a":-0.04},{"t":3.38,"a":0.06},{"t":3.39,"a":-0.06},
{"t":3.4,"a":0.09},{"t":3.41,"a":-0.04},{"t":3.42,"a":0.05},{"t":3.43,"a":-0.07},{"t":3.44,"a":0.04},{"t":3.45,"a":-0.05},{"t":3.46,"a":0.06},{"t":3.47,"a":-0.05},{"t":3.48,"a":0.05},{"t":3.49,"a":-0.04},
{"t":3.5,"a":0.04},{"t":3.51,"a":-0.06},{"t":3.52,"a":0.06},{"t":3.53,"a":-0.04},{"t":3.54,"a":0.05},{"t":3.55,"a":-0.05},{"t":3.56,"a":0.07},{"t":3.57,"a":-0.04},{"t":3.58,"a":0.04},{"t":3.59,"a":-0.06},
{"t":3.6,"a":0.06},{"t":3.61,"a":-0.05},{"t":3.62,"a":0.05},{"t":3.63,"a":-0.04},{"t":3.64,"a":0.08},{"t":3.65,"a":-0.03},{"t":3.66,"a":0.05},{"t":3.67,"a":-0.05},{"t":3.68,"a":0.04},{"t":3.69,"a":-0.06},
{"t":3.7,"a":0.07},{"t":3.71,"a":-0.05},{"t":3.72,"a":0.05},{"t":3.73,"a":-0.04},{"t":3.74,"a":0.04},{"t":3.75,"a":-0.06},{"t":3.76,"a":0.06},{"t":3.77,"a":-0.08},{"t":3.78,"a":0.05},{"t":3.79,"a":-0.05},
{"t":3.8,"a":0.1},{"t":3.81,"a":-0.04},{"t":3.82,"a":0.05},{"t":3.83,"a":-0.05},{"t":3.84,"a":0.06},{"t":3.85,"a":-0.05},{"t":3.86,"a":0.04},{"t":3.87,"a":-0.06},{"t":3.88,"a":0.05},{"t":3.89,"a":-0.04},
{"t":3.9,"a":0.08},{"t":3.91,"a":-0.04},{"t":3.92,"a":0.05},{"t":3.93,"a":-0.05},{"t":3.94,"a":0.04},{"t":3.95,"a":-0.06},{"t":3.96,"a":0.06},{"t":3.97,"a":-0.05},{"t":3.98,"a":0.04},{"t":3.99,"a":-0.05},
{"t":4.0,"a":0.06},{"t":4.01,"a":-0.06},{"t":4.02,"a":0.05},{"t":4.03,"a":-0.04},{"t":4.04,"a":0.07},{"t":4.05,"a":-0.05},{"t":4.06,"a":0.04},{"t":4.07,"a":-0.05},{"t":4.08,"a":0.05},{"t":4.09,"a":-0.04},
{"t":4.1,"a":0.08},{"t":4.11,"a":-0.07},{"t":4.12,"a":0.05},{"t":4.13,"a":-0.04},{"t":4.14,"a":0.04},{"t":4.15,"a":-0.03},{"t":4.16,"a":0.06},{"t":4.17,"a":-0.05},{"t":4.18,"a":0.05},{"t":4.19,"a":-0.06},
{"t":4.2,"a":0.06},{"t":4.21,"a":-0.05},{"t":4.22,"a":0.09},{"t":4.23,"a":-0.06},{"t":4.24,"a":0.05},{"t":4.25,"a":-0.04},{"t":4.26,"a":0.04},{"t":4.27,"a":-0.05},{"t":4.28,"a":0.07},{"t":4.29,"a":-0.05},
{"t":4.3,"a":0.05},{"t":4.31,"a":-0.06},{"t":4.32,"a":0.06},{"t":4.33,"a":-0.06},{"t":4.34,"a":0.04},{"t":4.35,"a":-0.04},{"t":4.36,"a":0.07},{"t":4.37,"a":-0.05},{"t":4.38,"a":0.05},{"t":4.39,"a":-0.04},
{"t":4.4,"a":0.11},{"t":4.41,"a":-0.04},{"t":4.42,"a":0.06},{"t":4.43,"a":-0.05},{"t":4.44,"a":0.05},{"t":4.45,"a":-0.05},{"t":4.46,"a":0.08},{"t":4.47,"a":-0.07},{"t":4.48,"a":0.05},{"t":4.49,"a":-0.04},
{"t":4.5,"a":0.04},{"t":4.51,"a":-0.04},{"t":4.52,"a":0.06},{"t":4.53,"a":-0.05},{"t":4.54,"a":0.07},{"t":4.55,"a":-0.06},{"t":4.56,"a":0.05},{"t":4.57,"a":-0.04},{"t":4.58,"a":0.04},{"t":4.59,"a":-0.05},
{"t":4.6,"a":0.06},{"t":4.61,"a":-0.05},{"t":4.62,"a":0.05},{"t":4.63,"a":-0.06},{"t":4.64,"a":0.05},{"t":4.65,"a":-0.05},{"t":4.66,"a":0.04},{"t":4.67,"a":-0.04},{"t":4.68,"a":0.05},{"t":4.69,"a":-0.03},{"t":4.7,"a":0.02}],
"f1": [{"f":0,"a":0.03},{"f":0.5,"a":0.15},{"f":1,"a":0.02},{"f":4,"a":0.01},{"f":8,"a":0.005},{"f":12,"a":0.01},{"f":16.7,"a":0.01},{"f":17,"a":0.14},{"f":17.3,"a":0.01},{"f":21,"a":0.005},{"f":25.1,"a":0.01},{"f":25.4,"a":0.09},{"f":25.7,"a":0.01},{"f":29,"a":0.01},{"f":32,"a":0.02},{"f":33,"a":0.12},{"f":33.3,"a":0.03},{"f":33.6,"a":0.81},{"f":33.9,"a":0.03},{"f":36,"a":0.01},{"f":40,"a":0.01},{"f":44,"a":0.005},{"f":48,"a":0.01},{"f":50,"a":0.01},{"f":50.3,"a":0.04},{"f":50.6,"a":0.005},{"f":54,"a":0.005},{"f":57.5,"a":0.01},{"f":57.8,"a":0.06},{"f":58.1,"a":0.005},{"f":62,"a":0.01},{"f":65,"a":0.03},{"f":65.6,"a":0.66},{"f":65.9,"a":0.08},{"f":66.3,"a":0.02},{"f":70,"a":0.01},{"f":73.7,"a":0.01},{"f":74,"a":0.08},{"f":74.3,"a":0.01},{"f":78,"a":0.005},{"f":81.5,"a":0.01},{"f":81.8,"a":0.04},{"f":82.1,"a":0.005},{"f":86,"a":0.01},{"f":90.2,"a":0.01},{"f":90.5,"a":0.07},{"f":90.8,"a":0.01},{"f":95,"a":0.01},{"f":97.8,"a":0.03},{"f":98.3,"a":0.64},{"f":98.8,"a":0.06},{"f":99.5,"a":0.44},{"f":99.9,"a":0.03},{"f":102,"a":0.02},{"f":104,"a":0.06},{"f":105,"a":0.02},{"f":106,"a":0.13},{"f":106.6,"a":0.03},{"f":107.3,"a":0.29},{"f":107.8,"a":0.03},{"f":109,"a":0.04},{"f":110.9,"a":0.15},{"f":111.4,"a":0.03},{"f":112.5,"a":0.12},{"f":113,"a":0.03},{"f":114,"a":0.08},{"f":114.6,"a":0.02},{"f":116,"a":0.14},{"f":116.4,"a":0.01},{"f":120,"a":0.01},{"f":124.2,"a":0.01},{"f":124.5,"a":0.05},{"f":124.8,"a":0.005},{"f":128,"a":0.01},{"f":132,"a":0.03},{"f":132.3,"a":0.41},{"f":132.7,"a":0.02},{"f":137,"a":0.01},{"f":140.7,"a":0.01},{"f":141,"a":0.05},{"f":141.3,"a":0.005},{"f":145,"a":0.01},{"f":148.1,"a":0.01},{"f":148.4,"a":0.1},{"f":148.8,"a":0.02},{"f":153,"a":0.01},{"f":157,"a":0.005},{"f":160,"a":0.01},{"f":163.7,"a":0.02},{"f":164,"a":0.21},{"f":164.3,"a":0.01},{"f":168,"a":0.005},{"f":173.7,"a":0.01},{"f":174,"a":0.03},{"f":174.3,"a":0.005},{"f":180,"a":0.01},{"f":185,"a":0.005},{"f":190,"a":0.005},{"f":194,"a":0.01},{"f":196.9,"a":0.04},{"f":197.2,"a":0.17},{"f":197.5,"a":0.05},{"f":197.8,"a":0.3},{"f":198.2,"a":0.02},{"f":203,"a":0.01},{"f":208,"a":0.01},{"f":213.7,"a":0.01},{"f":214,"a":0.14},{"f":214.3,"a":0.02},{"f":218,"a":0.01},{"f":221.5,"a":0.01},{"f":221.8,"a":0.13},{"f":222.1,"a":0.01},{"f":226,"a":0.02},{"f":230.2,"a":0.01},{"f":230.5,"a":0.11},{"f":230.8,"a":0.01},{"f":235,"a":0.02},{"f":238.3,"a":0.01},{"f":238.6,"a":0.06},{"f":238.9,"a":0.01},{"f":243,"a":0.02},{"f":246.4,"a":0.02},{"f":246.7,"a":0.31},{"f":247,"a":0.02},{"f":251,"a":0.02},{"f":254.7,"a":0.02},{"f":255,"a":0.31},{"f":255.3,"a":0.02},{"f":259,"a":0.03},{"f":262.7,"a":0.02},{"f":263,"a":0.13},{"f":263.3,"a":0.03},{"f":267,"a":0.04},{"f":270.7,"a":0.02},{"f":271,"a":0.09},{"f":271.3,"a":0.03},{"f":275,"a":0.04},{"f":278.7,"a":0.03},{"f":279,"a":0.17},{"f":279.5,"a":0.05},{"f":280,"a":0.22},{"f":280.4,"a":0.04},{"f":283,"a":0.04},{"f":284.7,"a":0.03},{"f":285,"a":0.1},{"f":285.5,"a":0.04},{"f":286.5,"a":0.05},{"f":287,"a":0.33},{"f":287.5,"a":0.06},{"f":288,"a":0.47},{"f":288.4,"a":0.05},{"f":290,"a":0.05},{"f":291.5,"a":0.04},{"f":293,"a":0.1},{"f":293.5,"a":0.05},{"f":294.5,"a":0.06},{"f":295.7,"a":0.06},{"f":296,"a":0.79},{"f":296.4,"a":0.08},{"f":297.5,"a":0.05},{"f":299,"a":0.04},{"f":301,"a":0.03},{"f":304.2,"a":0.02},{"f":304.5,"a":0.13},{"f":304.8,"a":0.02},{"f":309,"a":0.02},{"f":312.7,"a":0.02},{"f":313,"a":0.16},{"f":313.3,"a":0.02},{"f":317,"a":0.01},{"f":320.7,"a":0.01},{"f":321,"a":0.05},{"f":321.3,"a":0.01},{"f":325,"a":0.01},{"f":328.5,"a":0.01},{"f":328.8,"a":0.19},{"f":329.1,"a":0.01},{"f":333,"a":0.01},{"f":336.6,"a":0.01},{"f":336.9,"a":0.04},{"f":337.2,"a":0.005},{"f":341,"a":0.01},{"f":344.7,"a":0.02},{"f":345,"a":0.33},{"f":345.3,"a":0.02},{"f":349,"a":0.02},{"f":352.7,"a":0.02},{"f":353,"a":0.28},{"f":353.3,"a":0.03},{"f":356,"a":0.04},{"f":358,"a":0.03},{"f":358.5,"a":0.1},{"f":359,"a":0.04},{"f":359.8,"a":0.08},{"f":360.6,"a":0.3},{"f":361.1,"a":0.1},{"f":361.5,"a":1.48},{"f":361.9,"a":0.2},{"f":362.4,"a":0.91},{"f":362.9,"a":0.1},{"f":363.6,"a":0.15},{"f":364.2,"a":0.05},{"f":366,"a":0.04},{"f":368.7,"a":0.03},{"f":369,"a":0.2},{"f":369.5,"a":0.04},{"f":370.5,"a":0.17},{"f":370.9,"a":0.03},{"f":374,"a":0.02},{"f":377.7,"a":0.02},{"f":378,"a":0.24},{"f":378.3,"a":0.02},{"f":382,"a":0.01},{"f":385.7,"a":0.01},{"f":386,"a":0.06},{"f":386.3,"a":0.005},{"f":390,"a":0.005},{"f":394.1,"a":0.005},{"f":394.4,"a":0.08},{"f":394.7,"a":0.005},{"f":400,"a":0.003},{"f":405,"a":0.003},{"f":410.7,"a":0.003},{"f":411,"a":0.03},{"f":411.3,"a":0.003},{"f":415,"a":0.005},{"f":418.7,"a":0.005},{"f":419,"a":0.07},{"f":419.3,"a":0.005},{"f":423,"a":0.005},{"f":426.7,"a":0.01},{"f":427,"a":0.18},{"f":427.3,"a":0.01},{"f":431,"a":0.005},{"f":434.7,"a":0.005},{"f":435,"a":0.08},{"f":435.3,"a":0.005},{"f":439,"a":0.005},{"f":442.7,"a":0.005},{"f":443,"a":0.05},{"f":443.3,"a":0.005},{"f":447,"a":0.01},{"f":450.7,"a":0.005},{"f":451,"a":0.04},{"f":451.3,"a":0.005},{"f":455,"a":0.01},{"f":458,"a":0.03},{"f":459.6,"a":0.47},{"f":460.1,"a":0.05},{"f":460.8,"a":0.3},{"f":461.2,"a":0.02},{"f":464,"a":0.01},{"f":468.2,"a":0.01},{"f":468.5,"a":0.07},{"f":468.8,"a":0.005},{"f":473,"a":0.01},{"f":476.3,"a":0.01},{"f":476.6,"a":0.1},{"f":476.9,"a":0.01},{"f":481,"a":0.005},{"f":484.2,"a":0.01},{"f":484.5,"a":0.12},{"f":484.8,"a":0.01},{"f":489,"a":0.01},{"f":492.7,"a":0.01},{"f":493,"a":0.24},{"f":493.3,"a":0.02},{"f":496,"a":0.01},{"f":499,"a":0.05},{"f":500,"a":0.01}],
"f2": [{"f":0,"a":0.002},{"f":5,"a":0.002},{"f":9,"a":0.003},{"f":12,"a":0.002},{"f":16,"a":0.004},{"f":16.5,"a":0.012},{"f":17.1,"a":0.027},{"f":17.7,"a":0.006},{"f":20,"a":0.003},{"f":22,"a":0.002},{"f":24.5,"a":0.004},{"f":25,"a":0.01},{"f":25.6,"a":0.004},{"f":27,"a":0.009},{"f":27.6,"a":0.003},{"f":29,"a":0.004},{"f":31.5,"a":0.006},{"f":32.3,"a":0.016},{"f":33,"a":0.012},{"f":33.6,"a":0.105},{"f":34.2,"a":0.006},{"f":36,"a":0.004},{"f":38,"a":0.002},{"f":42,"a":0.001},{"f":47,"a":0.001},{"f":52,"a":0.001},{"f":56,"a":0.001},{"f":60,"a":0.001},{"f":64,"a":0.002},{"f":65.9,"a":0.016},{"f":66.5,"a":0.004},{"f":69,"a":0.006},{"f":69.5,"a":0.002},{"f":73,"a":0.005},{"f":73.5,"a":0.002},{"f":76,"a":0.003},{"f":78,"a":0.001},{"f":81.8,"a":0.005},{"f":82.3,"a":0.001},{"f":88,"a":0.001},{"f":94,"a":0.001},{"f":98,"a":0.005},{"f":98.5,"a":0.002},{"f":100,"a":0.006},{"f":100.5,"a":0.001},{"f":110,"a":0.001},{"f":150,"a":0.0008},{"f":200,"a":0.0008},{"f":250,"a":0.0008},{"f":300,"a":0.0008},{"f":350,"a":0.0008},{"f":400,"a":0.0008},{"f":450,"a":0.0008},{"f":500,"a":0.0008}],
"f3": [{"f":5,"a":0.002},{"f":5.4,"a":0.06},{"f":6,"a":0.03},{"f":6.5,"a":0.055},{"f":7,"a":0.005},{"f":7.7,"a":0.058},{"f":8.3,"a":0.01},{"f":9,"a":0.025},{"f":9.5,"a":0.012},{"f":10,"a":0.026},{"f":10.5,"a":0.008},{"f":11,"a":0.022},{"f":11.5,"a":0.01},{"f":12,"a":0.025},{"f":12.5,"a":0.008},{"f":13,"a":0.02},{"f":13.5,"a":0.01},{"f":14,"a":0.03},{"f":14.5,"a":0.009},{"f":15.2,"a":0.02},{"f":15.6,"a":0.045},{"f":16.2,"a":0.01},{"f":17,"a":0.098},{"f":17.6,"a":0.008},{"f":18.5,"a":0.018},{"f":19,"a":0.006},{"f":20,"a":0.016},{"f":20.5,"a":0.005},{"f":21.5,"a":0.02},{"f":22,"a":0.006},{"f":23,"a":0.015},{"f":23.5,"a":0.005},{"f":24,"a":0.02},{"f":24.5,"a":0.004},{"f":25.5,"a":0.016},{"f":26,"a":0.006},{"f":27,"a":0.025},{"f":27.5,"a":0.005},{"f":28.5,"a":0.014},{"f":29,"a":0.004},{"f":30,"a":0.016},{"f":30.5,"a":0.005},{"f":31.5,"a":0.013},{"f":32,"a":0.004},{"f":33,"a":0.015},{"f":33.6,"a":0.138},{"f":34.2,"a":0.005},{"f":35,"a":0.016},{"f":35.5,"a":0.004},{"f":36.5,"a":0.013},{"f":37,"a":0.004},{"f":38,"a":0.014},{"f":38.5,"a":0.003},{"f":39.5,"a":0.012},{"f":40,"a":0.004},{"f":41,"a":0.013},{"f":42,"a":0.003},{"f":43,"a":0.012},{"f":44,"a":0.004},{"f":45,"a":0.014},{"f":46,"a":0.003},{"f":47,"a":0.011},{"f":48,"a":0.004},{"f":49,"a":0.012},{"f":50,"a":0.003},{"f":51,"a":0.01},{"f":52,"a":0.004},{"f":53,"a":0.012},{"f":54,"a":0.003},{"f":55,"a":0.01},{"f":56,"a":0.003},{"f":57,"a":0.011},{"f":58,"a":0.003},{"f":59,"a":0.009},{"f":60,"a":0.003},{"f":61,"a":0.011},{"f":62,"a":0.002},{"f":63,"a":0.009},{"f":64,"a":0.003},{"f":65,"a":0.01},{"f":66,"a":0.003},{"f":67,"a":0.008},{"f":68,"a":0.002},{"f":69,"a":0.009},{"f":70,"a":0.003},{"f":71,"a":0.008},{"f":72,"a":0.002},{"f":73,"a":0.009},{"f":74,"a":0.002},{"f":75,"a":0.007},{"f":76,"a":0.003},{"f":77,"a":0.008},{"f":78,"a":0.002},{"f":79,"a":0.007},{"f":80,"a":0.002},{"f":81,"a":0.008},{"f":82,"a":0.002},{"f":83,"a":0.007},{"f":84,"a":0.002},{"f":85,"a":0.006},{"f":86,"a":0.002},{"f":87,"a":0.007},{"f":88,"a":0.002},{"f":89,"a":0.006},{"f":90,"a":0.002},{"f":91,"a":0.007},{"f":92,"a":0.002},{"f":93,"a":0.006},{"f":94,"a":0.002},{"f":95,"a":0.006},{"f":96,"a":0.002},{"f":97,"a":0.007},{"f":98,"a":0.002},{"f":99,"a":0.008},{"f":100,"a":0.002},{"f":101,"a":0.005},{"f":102,"a":0.002},{"f":103,"a":0.006},{"f":104,"a":0.001},{"f":105,"a":0.004},{"f":106,"a":0.002},{"f":107,"a":0.006},{"f":108,"a":0.001},{"f":109,"a":0.005},{"f":110,"a":0.002},{"f":111,"a":0.004},{"f":112,"a":0.001},{"f":113,"a":0.005},{"f":114,"a":0.002},{"f":115,"a":0.004},{"f":116,"a":0.001},{"f":117,"a":0.006},{"f":118,"a":0.002},{"f":119,"a":0.004},{"f":120,"a":0.001},{"f":121,"a":0.005},{"f":122,"a":0.001},{"f":123,"a":0.004},{"f":124,"a":0.002},{"f":125,"a":0.004},{"f":126,"a":0.001},{"f":127,"a":0.005},{"f":128,"a":0.001},{"f":129,"a":0.003},{"f":130,"a":0.002},{"f":131,"a":0.004},{"f":132,"a":0.001},{"f":133,"a":0.003},{"f":134,"a":0.001},{"f":135,"a":0.004},{"f":136,"a":0.002},{"f":137,"a":0.003},{"f":138,"a":0.001},{"f":139,"a":0.004},{"f":140,"a":0.001},{"f":141,"a":0.003},{"f":142,"a":0.001},{"f":143,"a":0.004},{"f":144,"a":0.001},{"f":145,"a":0.003},{"f":146,"a":0.001},{"f":147,"a":0.003},{"f":148,"a":0.002},{"f":149,"a":0.004},{"f":150,"a":0.001},{"f":151,"a":0.005},{"f":152,"a":0.001},{"f":153,"a":0.003},{"f":154,"a":0.001},{"f":155,"a":0.002},{"f":156,"a":0.001},{"f":157,"a":0.003},{"f":158,"a":0.001},{"f":159,"a":0.002},{"f":160,"a":0.001},{"f":161,"a":0.003},{"f":162,"a":0.001},{"f":163,"a":0.002},{"f":164,"a":0.001},{"f":165,"a":0.002},{"f":166,"a":0.001},{"f":167,"a":0.003},{"f":168,"a":0.001},{"f":169,"a":0.002},{"f":170,"a":0.001},{"f":172,"a":0.002},{"f":174,"a":0.001},{"f":176,"a":0.002},{"f":178,"a":0.003},{"f":180,"a":0.001},{"f":182,"a":0.002},{"f":184,"a":0.001},{"f":186,"a":0.002},{"f":188,"a":0.001},{"f":190,"a":0.001},{"f":195,"a":0.002},{"f":200,"a":0.001},{"f":210,"a":0.001},{"f":230,"a":0.001},{"f":240,"a":0.002},{"f":250,"a":0.001},{"f":300,"a":0.001},{"f":350,"a":0.001},{"f":400,"a":0.001},{"f":450,"a":0.001},{"f":500,"a":0.001}],
"f4": [{"f":0,"a":0.002},{"f":1,"a":0.0015},{"f":2,"a":0.001},{"f":4,"a":0.0015},{"f":6,"a":0.001},{"f":8,"a":0.0015},{"f":9.5,"a":0.001},{"f":10,"a":0.004},{"f":10.5,"a":0.006},{"f":11,"a":0.002},{"f":11.5,"a":0.006},{"f":12,"a":0.0112},{"f":12.5,"a":0.005},{"f":13,"a":0.0065},{"f":13.5,"a":0.003},{"f":14,"a":0.006},{"f":14.5,"a":0.002},{"f":15,"a":0.004},{"f":15.5,"a":0.002},{"f":16.3,"a":0.001},{"f":17,"a":0.01},{"f":17.6,"a":0.002},{"f":19,"a":0.0008},{"f":21,"a":0.0012},{"f":23,"a":0.0006},{"f":25,"a":0.001},{"f":27,"a":0.0007},{"f":29,"a":0.0009},{"f":31,"a":0.0008},{"f":32.8,"a":0.0012},{"f":33.3,"a":0.014},{"f":33.9,"a":0.001},{"f":36,"a":0.0006},{"f":39,"a":0.0009},{"f":42,"a":0.0006},{"f":45,"a":0.0008},{"f":48.8,"a":0.0008},{"f":49.4,"a":0.0027},{"f":50,"a":0.0008},{"f":53,"a":0.0009},{"f":54,"a":0.0015},{"f":55,"a":0.0006},{"f":58,"a":0.0008},{"f":61,"a":0.0006},{"f":64,"a":0.0012},{"f":65.3,"a":0.004},{"f":65.9,"a":0.024},{"f":66.5,"a":0.002},{"f":67,"a":0.0045},{"f":67.6,"a":0.001},{"f":70,"a":0.0007},{"f":74,"a":0.0008},{"f":78,"a":0.0006},{"f":82,"a":0.0007},{"f":86,"a":0.0005},{"f":90,"a":0.0007},{"f":94,"a":0.0005},{"f":97.5,"a":0.0008},{"f":98.3,"a":0.005},{"f":99,"a":0.002},{"f":99.5,"a":0.003},{"f":100.2,"a":0.0008},{"f":105,"a":0.0005},{"f":110,"a":0.0006},{"f":120,"a":0.0004},{"f":130,"a":0.0005},{"f":140,"a":0.0004},{"f":150,"a":0.0007},{"f":160,"a":0.0004},{"f":180,"a":0.0005},{"f":200,"a":0.0004},{"f":220,"a":0.0004},{"f":250,"a":0.0006},{"f":270,"a":0.0003},{"f":290,"a":0.0007},{"f":300,"a":0.0009},{"f":305,"a":0.0006},{"f":311.5,"a":0.0008},{"f":312,"a":0.0022},{"f":312.6,"a":0.0006},{"f":320,"a":0.0005},{"f":330,"a":0.0008},{"f":340,"a":0.0003},{"f":360,"a":0.0007},{"f":380,"a":0.0003},{"f":400,"a":0.0005},{"f":420,"a":0.0003},{"f":450,"a":0.0006},{"f":470,"a":0.0003},{"f":500,"a":0.0003}]
},
"vconcat": [
{"spacing": 3, "vconcat": [
{"width": 568, "height": 107, "data": {"name": "t1"},
 "title": {"text": "Motor-car engine", "orient": "bottom", "dx": -27, "fontSize": 23},
 "layer": [
  {"mark": {"type": "line", "clip": true, "strokeWidth": 1.4},
   "encoding": {"x": {"field": "t", "type": "quantitative", "scale": {"domain": [0, 5], "nice": false, "zero": false}, "axis": {"values": [0,0.5,1,1.5,2,2.5,3,3.5,4,4.5,5], "title": "time [s]", "labelExpr": "'' + datum.value"}},
    "y": {"field": "a", "type": "quantitative", "scale": {"domain": [-10, 10], "nice": false, "zero": false}, "axis": {"values": [-10,0,10], "title": "acceleration [m/s²]", "labelExpr": "'' + datum.value"}}}},
  {"mark": {"type": "line", "opacity": 0},
   "encoding": {"x": {"field": "t", "type": "quantitative", "axis": {"orient": "top", "values": [0,0.5,1,1.5,2,2.5,3,3.5,4,4.5,5], "labels": false, "title": null}},
    "y": {"field": "a", "type": "quantitative", "axis": {"orient": "right", "values": [-10,0,10], "labels": false, "title": null}}}}
 ],
 "resolve": {"axis": {"x": "independent", "y": "independent"}}},
{"width": 568, "height": 106, "data": {"name": "t2"},
 "title": {"text": "Front passenger floor", "orient": "bottom", "dx": -41},
 "layer": [
  {"mark": {"type": "line", "clip": true},
   "encoding": {"x": {"field": "t", "type": "quantitative", "scale": {"domain": [0, 5], "nice": false, "zero": false}, "axis": {"values": [0,0.5,1,1.5,2,2.5,3,3.5,4,4.5,5], "title": "time [s]", "labelExpr": "'' + datum.value"}},
    "y": {"field": "a", "type": "quantitative", "scale": {"domain": [-0.2, 0.2], "nice": false, "zero": false}, "axis": {"values": [-0.2,0,0.2], "title": "acceleration [m/s²]", "labelExpr": "'' + datum.value"}}}},
  {"mark": {"type": "line", "opacity": 0},
   "encoding": {"x": {"field": "t", "type": "quantitative", "axis": {"orient": "top", "values": [0,0.5,1,1.5,2,2.5,3,3.5,4,4.5,5], "labels": false, "title": null}},
    "y": {"field": "a", "type": "quantitative", "axis": {"orient": "right", "values": [-0.2,0,0.2], "labels": false, "title": null}}}}
 ],
 "resolve": {"axis": {"x": "independent", "y": "independent"}}},
{"width": 568, "height": 107, "data": {"name": "t3"},
 "title": {"text": "Front passenger seat", "orient": "bottom", "dx": -42},
 "layer": [
  {"mark": {"type": "line", "clip": true},
   "encoding": {"x": {"field": "t", "type": "quantitative", "scale": {"domain": [0, 5], "nice": false, "zero": false}, "axis": {"values": [0,0.5,1,1.5,2,2.5,3,3.5,4,4.5,5], "title": "time [s]", "labelExpr": "'' + datum.value"}},
    "y": {"field": "a", "type": "quantitative", "scale": {"domain": [-2, 1], "nice": false, "zero": false}, "axis": {"values": [-2,-1,0,1], "title": "acceleration [m/s²]", "labelExpr": "'' + datum.value"}}}},
  {"mark": {"type": "line", "opacity": 0},
   "encoding": {"x": {"field": "t", "type": "quantitative", "axis": {"orient": "top", "values": [0,0.5,1,1.5,2,2.5,3,3.5,4,4.5,5], "labels": false, "title": null}},
    "y": {"field": "a", "type": "quantitative", "axis": {"orient": "right", "values": [-2,-1,0,1], "labels": false, "title": null}}}}
 ],
 "resolve": {"axis": {"x": "independent", "y": "independent"}}},
{"width": 568, "height": 106, "data": {"name": "t4"},
 "title": {"text": ["Right rear passenger floor", "a) Time function"], "orient": "bottom", "dx": -41},
 "layer": [
  {"mark": {"type": "line", "clip": true, "strokeWidth": 1.2},
   "encoding": {"x": {"field": "t", "type": "quantitative", "scale": {"domain": [0, 5], "nice": false, "zero": false}, "axis": {"values": [0,0.5,1,1.5,2,2.5,3,3.5,4,4.5,5], "title": "time [s]", "labelExpr": "'' + datum.value"}},
    "y": {"field": "a", "type": "quantitative", "scale": {"domain": [-0.2, 0.2], "nice": false, "zero": false}, "axis": {"values": [-0.2,0,0.2], "title": "acceleration [m/s²]", "labelExpr": "'' + datum.value"}}}},
  {"mark": {"type": "line", "opacity": 0},
   "encoding": {"x": {"field": "t", "type": "quantitative", "axis": {"orient": "top", "values": [0,0.5,1,1.5,2,2.5,3,3.5,4,4.5,5], "labels": false, "title": null}},
    "y": {"field": "a", "type": "quantitative", "axis": {"orient": "right", "values": [-0.2,0,0.2], "labels": false, "title": null}}}}
 ],
 "resolve": {"axis": {"x": "independent", "y": "independent"}}}
]},
{"spacing": 2, "vconcat": [
{"width": 568, "height": 103, "data": {"name": "f1"},
 "title": {"text": "Motor-car engine", "orient": "bottom", "dx": -27, "fontSize": 23},
 "layer": [
  {"mark": {"type": "line", "clip": true},
   "encoding": {"x": {"field": "f", "type": "quantitative", "scale": {"domain": [0, 500], "range": [6, 562], "nice": false, "zero": false}, "axis": {"values": [50,100,150,200,250,300,350,400,450,500], "title": "frequency [Hz]", "labelExpr": "'' + datum.value"}},
    "y": {"field": "a", "type": "quantitative", "scale": {"domain": [0, 1.5], "nice": false, "zero": false}, "axis": {"values": [0,0.5,1,1.5], "title": "acceleration [m/s²]", "labelExpr": "'' + datum.value", "offset": -6}}}},
  {"mark": {"type": "line", "opacity": 0},
   "encoding": {"x": {"field": "f", "type": "quantitative", "axis": {"orient": "top", "values": [50,100,150,200,250,300,350,400,450,500], "labels": false, "title": null}},
    "y": {"field": "a", "type": "quantitative", "axis": {"orient": "right", "values": [0,0.5,1,1.5], "labels": false, "title": null, "offset": -6}}}}
 ],
 "resolve": {"axis": {"x": "independent", "y": "independent"}}},
{"width": 568, "height": 104, "data": {"name": "f2"},
 "title": {"text": "Front passenger floor", "orient": "bottom", "dx": -41},
 "layer": [
  {"mark": {"type": "line", "clip": true},
   "encoding": {"x": {"field": "f", "type": "quantitative", "scale": {"domain": [0, 500], "range": [6, 562], "nice": false, "zero": false}, "axis": {"values": [50,100,150,200,250,300,350,400,450,500], "title": "frequency [Hz]", "labelExpr": "'' + datum.value"}},
    "y": {"field": "a", "type": "quantitative", "scale": {"domain": [0, 0.2], "nice": false, "zero": false}, "axis": {"values": [0,0.1,0.2], "title": "acceleration [m/s²]", "labelExpr": "'' + datum.value", "offset": -6}}}},
  {"mark": {"type": "line", "opacity": 0},
   "encoding": {"x": {"field": "f", "type": "quantitative", "axis": {"orient": "top", "values": [50,100,150,200,250,300,350,400,450,500], "labels": false, "title": null}},
    "y": {"field": "a", "type": "quantitative", "axis": {"orient": "right", "values": [0,0.1,0.2], "labels": false, "title": null, "offset": -6}}}}
 ],
 "resolve": {"axis": {"x": "independent", "y": "independent"}}},
{"width": 568, "height": 105, "data": {"name": "f3"},
 "title": {"text": "Front passenger seat", "orient": "bottom", "dx": -42},
 "layer": [
  {"mark": {"type": "line", "clip": true},
   "encoding": {"x": {"field": "f", "type": "quantitative", "scale": {"domain": [0, 500], "range": [6, 562], "nice": false, "zero": false}, "axis": {"values": [50,100,150,200,250,300,350,400,450,500], "title": "frequency [Hz]", "labelExpr": "'' + datum.value"}},
    "y": {"field": "a", "type": "quantitative", "scale": {"domain": [0, 0.2], "nice": false, "zero": false}, "axis": {"values": [0,0.1,0.2], "title": "acceleration [m/s²]", "labelExpr": "'' + datum.value", "offset": -6}}}},
  {"mark": {"type": "line", "opacity": 0},
   "encoding": {"x": {"field": "f", "type": "quantitative", "axis": {"orient": "top", "values": [50,100,150,200,250,300,350,400,450,500], "labels": false, "title": null}},
    "y": {"field": "a", "type": "quantitative", "axis": {"orient": "right", "values": [0,0.1,0.2], "labels": false, "title": null, "offset": -6}}}}
 ],
 "resolve": {"axis": {"x": "independent", "y": "independent"}}},
{"width": 568, "height": 103, "data": {"name": "f4"},
 "title": {"text": ["Right rear passenger floor", "b) Frequency function"], "orient": "bottom", "dx": -41},
 "layer": [
  {"mark": {"type": "line", "clip": true},
   "encoding": {"x": {"field": "f", "type": "quantitative", "scale": {"domain": [0, 500], "range": [6, 562], "nice": false, "zero": false}, "axis": {"values": [50,100,150,200,250,300,350,400,450,500], "title": "frequency [Hz]", "labelExpr": "'' + datum.value"}},
    "y": {"field": "a", "type": "quantitative", "scale": {"domain": [0, 0.03], "nice": false, "zero": false}, "axis": {"values": [0,0.01,0.02,0.03], "title": "acceleration [m/s²]", "labelExpr": "'' + datum.value", "offset": -6}}}},
  {"mark": {"type": "line", "opacity": 0},
   "encoding": {"x": {"field": "f", "type": "quantitative", "axis": {"orient": "top", "values": [50,100,150,200,250,300,350,400,450,500], "labels": false, "title": null}},
    "y": {"field": "a", "type": "quantitative", "axis": {"orient": "right", "values": [0,0.01,0.02,0.03], "labels": false, "title": null, "offset": -6}}}}
 ],
 "resolve": {"axis": {"x": "independent", "y": "independent"}}}
]}
],
"config": {
 "view": {"stroke": null},
 "axis": {"domain": true, "domainColor": "#262626", "domainWidth": 1, "grid": false, "ticks": true, "tickSize": -4, "tickColor": "#262626", "tickWidth": 1, "labelFont": "Liberation Sans", "labelFontSize": 14, "labelColor": "#333333", "labelFlush": false, "labelOverlap": false, "labelPadding": 8, "titleFont": "Liberation Sans", "titleFontSize": 16, "titleFontWeight": "normal", "titleColor": "#333333"},
 "axisX": {"labelPadding": 9, "titlePadding": 4},
 "axisY": {"titlePadding": 10, "minExtent": 22, "maxExtent": 22},
 "title": {"font": "Liberation Serif", "fontSize": 21, "fontWeight": "normal", "color": "#000000", "anchor": "middle", "offset": 7, "lineHeight": 27},
 "line": {"color": "#3a52a3", "strokeWidth": 1}
}
}
